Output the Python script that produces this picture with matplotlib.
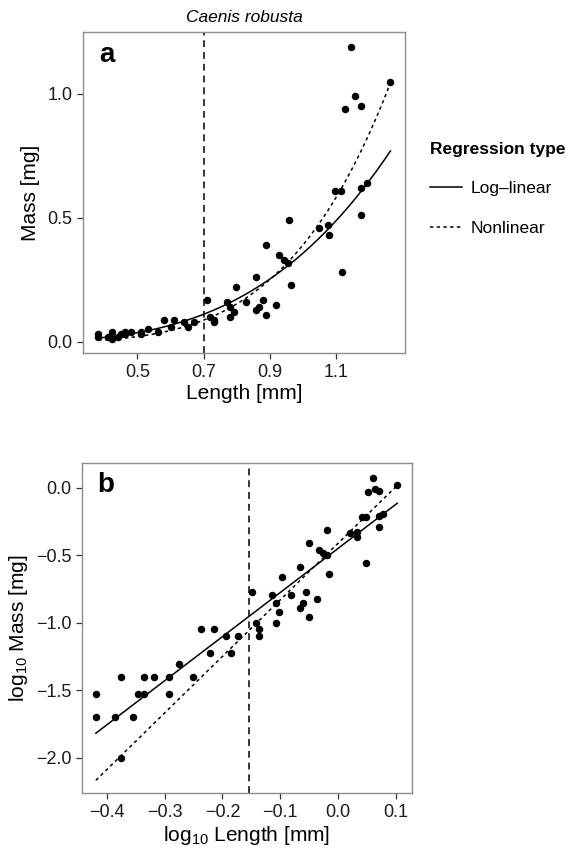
# # 0. import external modules
import numpy as np
import matplotlib
matplotlib.use('Agg')
import matplotlib.pyplot as plt
from matplotlib.lines import Line2D

# # 1. data
# ====================
length_mm = [0.381, 0.381, 0.411, 0.422, 0.422, 0.442, 0.451, 0.461, 0.461, 0.481,
             0.510, 0.510, 0.531, 0.561, 0.580, 0.601, 0.611, 0.640, 0.652, 0.670,
             0.711, 0.721, 0.731, 0.731, 0.770, 0.780, 0.780, 0.791, 0.799, 0.829,
             0.860, 0.860, 0.869, 0.880, 0.890, 0.890, 0.919, 0.928, 0.943, 0.956,
             0.958, 0.966, 1.049, 1.077, 1.080, 1.099, 1.117, 1.118, 1.128, 1.148,
             1.159, 1.177, 1.177, 1.177, 1.195, 1.266]
mass_mg = [0.03, 0.02, 0.02, 0.04, 0.01, 0.02, 0.03, 0.03, 0.04, 0.04,
           0.04, 0.03, 0.05, 0.04, 0.09, 0.06, 0.09, 0.08, 0.06, 0.08,
           0.17, 0.10, 0.09, 0.08, 0.16, 0.14, 0.10, 0.12, 0.22, 0.16,
           0.26, 0.13, 0.14, 0.17, 0.11, 0.39, 0.15, 0.35, 0.33, 0.32,
           0.49, 0.23, 0.46, 0.47, 0.43, 0.61, 0.61, 0.28, 0.94, 1.19,
           0.99, 0.62, 0.51, 0.95, 0.64, 1.05]

# fitted lines, log10(M) = a + b*log10(L)
loglinear_coef = [-0.448, 3.267]
nonlinear_coef = [-0.410, 4.190]
threshold_mm = 0.7

xticks_a = [0.5, 0.7, 0.9, 1.1]
yticks_a = [0.0, 0.5, 1.0]
xticks_b = [-0.4, -0.3, -0.2, -0.1, 0.0, 0.1]
yticks_b = [-2.0, -1.5, -1.0, -0.5, 0.0]

# # 2. style
# ====================
plt.rcParams['font.family'] = ['Liberation Sans', 'DejaVu Sans']
plt.rcParams['mathtext.fontset'] = 'custom'
plt.rcParams['mathtext.rm'] = 'Liberation Sans'
plt.rcParams['mathtext.it'] = 'Liberation Sans:italic'
plt.rcParams['mathtext.bf'] = 'Liberation Sans:bold'
plt.rcParams['mathtext.default'] = 'regular'

fig = plt.figure(figsize=(5.77, 8.49), dpi=100)
ax_a = fig.add_axes([83 / 577, 1 - 353 / 849, 322 / 577, 321 / 849])
ax_b = fig.add_axes([82 / 577, 1 - 793 / 849, 330 / 577, 330 / 849])

L = np.array(length_mm)
M = np.array(mass_mg)
Lfit = np.linspace(L.min(), L.max(), 200)
fit_ll = 10 ** (loglinear_coef[0] + loglinear_coef[1] * np.log10(Lfit))
fit_nl = 10 ** (nonlinear_coef[0] + nonlinear_coef[1] * np.log10(Lfit))

line_kw = dict(color='black', lw=1.1)
dot_style = (0, (2.2, 2.2))
vdash = (0, (4.5, 3.2))

# # 3. panel a
# ====================
ax_a.scatter(L, M, s=29, color='black', zorder=3, linewidths=0)
ax_a.plot(Lfit, fit_ll, **line_kw)
ax_a.plot(Lfit, fit_nl, linestyle=dot_style, **line_kw)
ax_a.axvline(threshold_mm, color='black', lw=1.1, linestyle=vdash)
ax_a.set_xlim(0.335, 1.31)
ax_a.set_ylim(-0.045, 1.25)
ax_a.set_xticks(xticks_a)
ax_a.set_yticks(yticks_a)
ax_a.set_xlabel('Length [mm]', fontsize=15, labelpad=2)
ax_a.set_ylabel('Mass [mg]', fontsize=15, labelpad=5)
ax_a.text(0.073, 0.928, 'a', transform=ax_a.transAxes, fontsize=20,
          fontweight='bold', ha='center', va='center')

# # 4. panel b
# ====================
logL = np.log10(L)
logM = np.log10(M)
ax_b.scatter(logL, logM, s=29, color='black', zorder=3, linewidths=0)
ax_b.plot(np.log10(Lfit), np.log10(fit_ll), **line_kw)
ax_b.plot(np.log10(Lfit), np.log10(fit_nl), linestyle=dot_style, **line_kw)
ax_b.axvline(np.log10(threshold_mm), color='black', lw=1.1, linestyle=vdash)
ax_b.set_xlim(-0.443, 0.128)
ax_b.set_ylim(-2.26, 0.185)
ax_b.set_xticks(xticks_b)
ax_b.set_yticks(yticks_b)
ax_b.set_xlabel('log$_{10}$ Length [mm]', fontsize=15, labelpad=2)
ax_b.set_ylabel('log$_{10}$ Mass [mg]', fontsize=15, labelpad=4)
ax_b.text(0.071, 0.933, 'b', transform=ax_b.transAxes, fontsize=20,
          fontweight='bold', ha='center', va='center')

for ax in (ax_a, ax_b):
    for sp in ax.spines.values():
        sp.set_color('#8c8c8c')
        sp.set_linewidth(1.0)
    ax.tick_params(direction='out', length=4.3, width=0.9, color='#333333',
                   labelsize=13, labelcolor='#1a1a1a', pad=3.5)

# # 5. title and legend
# ====================
fig.text(244 / 577, 1 - 17 / 849, 'Caenis robusta', style='italic',
         ha='center', va='center', fontsize=12.5)

handles = [Line2D([], [], color='black', lw=1.1),
           Line2D([], [], color='black', lw=1.1, linestyle=dot_style)]
fig.legend(handles, ['Log\u2013linear', 'Nonlinear'], title='Regression type',
           loc='upper left', bbox_to_anchor=(430 / 577, 1 - 142 / 849),
           frameon=False, alignment='left', fontsize=12.5,
           title_fontproperties={'weight': 'bold', 'size': 12.5},
           handlelength=1.85, handletextpad=0.5, labelspacing=1.4,
           borderpad=0, borderaxespad=0)

fig.savefig('out.png', dpi=100)
